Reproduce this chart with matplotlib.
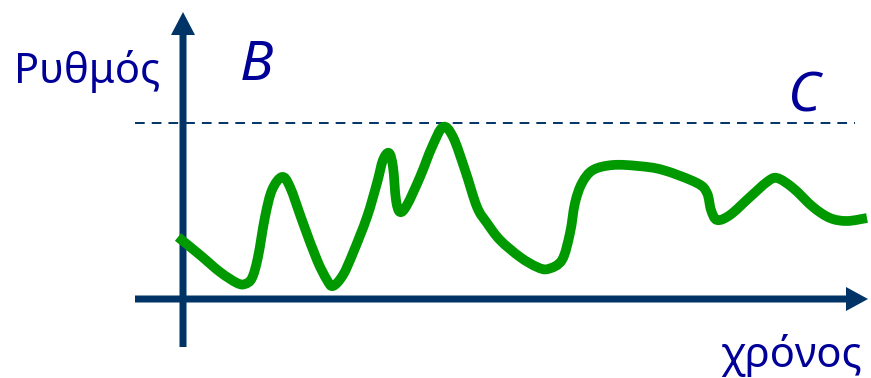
import matplotlib
matplotlib.use("Agg")
import numpy as np
import matplotlib.pyplot as plt
from matplotlib.patches import FancyArrow, PathPatch
from matplotlib.path import Path

# time / rate (origin at the axis crossing)
time = [-5, 17, 37, 54, 62, 69, 75, 82, 89, 99, 107, 120, 134, 144, 150,
        160, 170, 184, 194, 200, 206, 210, 213, 217, 224, 237, 249, 260,
        270, 282, 294, 304, 317, 337, 354, 365, 379, 387, 392, 399, 410,
        430, 455, 480, 514, 524, 528, 534, 547, 567, 584, 594, 610, 630,
        647, 664, 684]
rate = [62, 44, 27, 16, 15, 21, 42, 82, 109, 122, 112, 76, 39, 19, 13,
        24, 46, 82, 116, 139, 146, 132, 99, 87, 94, 122, 152, 172,
        162, 129, 92, 76, 59, 42, 32, 30, 39, 66, 96, 116, 129,
        134, 133, 129, 116, 106, 89, 79, 84, 102, 117, 121, 111, 92,
        81, 78, 81]
capacity = 176  # level C

axis_col = "#003366"
text_col = "#000099"
curve_col = "#009900"


def smooth_path(xs, ys):
    """Catmull-Rom through the read points, handed to matplotlib as Bezier curves."""
    p = np.column_stack([xs, ys]).astype(float)
    p = np.vstack([p[0], p, p[-1]])
    verts, codes = [p[1]], [Path.MOVETO]
    for i in range(1, len(p) - 2):
        c1 = p[i] + (p[i + 1] - p[i - 1]) / 6
        c2 = p[i + 1] - (p[i + 2] - p[i]) / 6
        verts += [c1, c2, p[i + 1]]
        codes += [Path.CURVE4] * 3
    return Path(verts, codes)


fig = plt.figure(figsize=(8.71, 3.78), dpi=100)
ax = fig.add_axes([0, 0, 1, 1])
ax.set_xlim(-183, 688)
ax.set_ylim(-79, 299)
ax.axis("off")

# axes with arrow heads
ax.add_patch(FancyArrow(0, -48, 0, 335, width=7, head_width=24, head_length=23,
                        length_includes_head=True, color=axis_col, lw=0))
ax.add_patch(FancyArrow(-48, 0, 733, 0, width=7, head_width=24, head_length=22,
                        length_includes_head=True, color=axis_col, lw=0))

ax.plot([-48, 672], [capacity, capacity], color=axis_col, lw=1.4,
        dashes=(5, 3.6))

ax.add_patch(PathPatch(smooth_path(time, rate), fill=False, edgecolor=curve_col,
                       lw=7, joinstyle="round", capstyle="butt", zorder=5))

fs = 30
ax.text(-169, 216, "Ρυθμός", color=text_col, fontsize=fs, family="Noto Sans",
        ha="left", va="baseline")
ax.text(537, -68, "χρόνος", color=text_col, fontsize=fs, family="Noto Sans",
        ha="left", va="baseline")
ax.text(57, 219, "B", color=text_col, fontsize=40, family="Noto Sans",
        style="italic", weight="semibold", ha="left", va="baseline")
ax.text(605, 187, "C", color=text_col, fontsize=40, family="Noto Sans",
        style="italic", weight="semibold", ha="left", va="baseline")

fig.savefig("out.png", dpi=100)
